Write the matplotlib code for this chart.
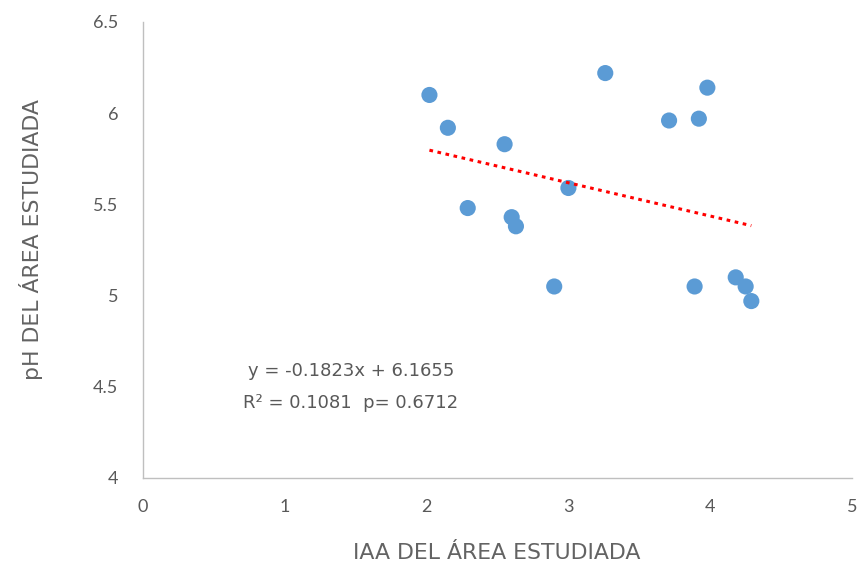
import matplotlib
matplotlib.use("Agg")
import matplotlib.pyplot as plt
import numpy as np

# IAA vs pH of the studied area
iaa = [2.02, 2.15, 2.29, 2.55, 2.60, 2.63, 2.90, 3.00, 3.26,
       3.71, 3.89, 3.92, 3.98, 4.18, 4.25, 4.29]
ph = [6.10, 5.92, 5.48, 5.83, 5.43, 5.38, 5.05, 5.59, 6.22,
      5.96, 5.05, 5.97, 6.14, 5.10, 5.05, 4.97]

slope = -0.1823
intercept = 6.1655
r2 = 0.1081
p_value = 0.6712

x_ticks = [0, 1, 2, 3, 4, 5]
y_ticks = [4, 4.5, 5, 5.5, 6, 6.5]

x_label = "IAA DEL ÁREA ESTUDIADA"
y_label = "pH DEL ÁREA ESTUDIADA"

plt.rcParams["font.family"] = ["DejaVu Sans"]
text_color = "#595959"
tick_font = ["Lato", "DejaVu Sans"]

fig = plt.figure(figsize=(8.63, 5.72), dpi=100)
ax = fig.add_axes([143 / 863, 1 - 478 / 572, 709 / 863, 456 / 572])

ax.scatter(iaa, ph, s=135, color="#5B9BD5", edgecolors="none", zorder=3)

xs = np.array([min(iaa), max(iaa)])
ax.plot(xs, slope * xs + intercept, color="#FF0000", lw=2.2,
        linestyle=(0, (1.2, 1.5)), zorder=4)

ax.set_xlim(0, 5)
ax.set_ylim(4, 6.5)
ax.set_xticks(x_ticks)
ax.set_yticks(y_ticks)
ax.set_xticklabels([f"{v:g}" for v in x_ticks], family=tick_font)
ax.set_yticklabels([f"{v:g}" for v in y_ticks], family=tick_font)
ax.tick_params(axis="both", length=0, labelsize=13, labelcolor=text_color)
ax.tick_params(axis="y", pad=18)
ax.tick_params(axis="x", pad=15)

for side in ("top", "right"):
    ax.spines[side].set_visible(False)
for side in ("left", "bottom"):
    ax.spines[side].set_color("#BFBFBF")
    ax.spines[side].set_linewidth(1.0)

ax.text(0.74, 4.587, f"y = {slope:.4f}x + {intercept:.4f}",
        ha="left", va="center", fontsize=13, color=text_color)
ax.text(0.705, 4.411, f"R² = {r2:.4f}  p= {p_value:.4f}",
        ha="left", va="center", fontsize=13, color=text_color)

fig.text(497 / 863, 1 - 553 / 572, x_label, ha="center", va="center",
         fontsize=15.8, color="#636363")
fig.text(31 / 863, 1 - 240 / 572, y_label, ha="center", va="center",
         rotation=90, fontsize=15.8, color="#636363")

fig.savefig("out.png", dpi=100)
